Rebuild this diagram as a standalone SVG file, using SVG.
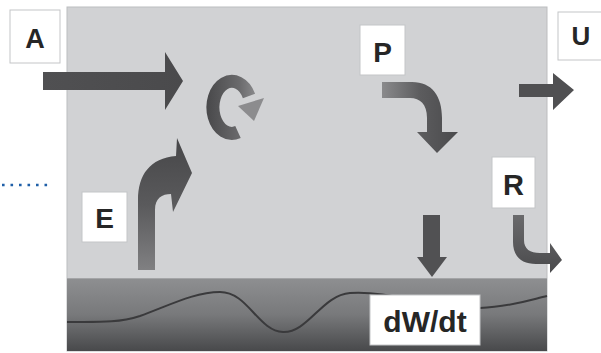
<svg xmlns="http://www.w3.org/2000/svg" width="601" height="353" viewBox="0 0 601 353">
  <style>
    .lbl { fill: #ffffff; stroke: #c4c5c7; stroke-width: 1; }
    .txt { font-family: "Liberation Sans", Arial, sans-serif; font-weight: bold; fill: #262626; text-anchor: middle; }
    .flow { fill: url(#flowDark); }
  </style>
  <defs>
    <linearGradient id="soil" x1="0" y1="0" x2="0" y2="1">
      <stop offset="0" stop-color="#8e8f91"/>
      <stop offset="0.5" stop-color="#78797b"/>
      <stop offset="1" stop-color="#48494b"/>
    </linearGradient>
    <linearGradient id="flowDark" x1="0" y1="0" x2="1" y2="0">
      <stop offset="0" stop-color="#505052"/>
      <stop offset="1" stop-color="#4a4a4c"/>
    </linearGradient>
    <linearGradient id="cycleGrad" gradientUnits="userSpaceOnUse" x1="208" y1="0" x2="265" y2="0">
      <stop offset="0" stop-color="#4a4a4c"/>
      <stop offset="0.55" stop-color="#6a6a6c"/>
      <stop offset="1" stop-color="#9c9c9e"/>
    </linearGradient>
    <linearGradient id="evapGrad" gradientUnits="userSpaceOnUse" x1="0" y1="270" x2="0" y2="140">
      <stop offset="0" stop-color="#808082"/>
      <stop offset="0.5" stop-color="#5a5a5c"/>
      <stop offset="1" stop-color="#474749"/>
    </linearGradient>
    <linearGradient id="precipGrad" gradientUnits="userSpaceOnUse" x1="382" y1="0" x2="458" y2="0">
      <stop offset="0" stop-color="#8a8a8c"/>
      <stop offset="0.5" stop-color="#5c5c5e"/>
      <stop offset="1" stop-color="#4a4a4c"/>
    </linearGradient>
    <linearGradient id="runoffGrad" gradientUnits="userSpaceOnUse" x1="0" y1="215" x2="0" y2="273">
      <stop offset="0" stop-color="#6a6a6c"/>
      <stop offset="1" stop-color="#4a4a4c"/>
    </linearGradient>
  </defs>

  <!-- control volume: atmosphere column above the soil layer -->
  <g id="column">
    <rect x="67" y="7" width="480" height="344" fill="#d1d2d4" stroke="#bcbdbf" stroke-width="1"/>
    <rect x="67" y="278" width="480" height="73" fill="url(#soil)"/>
    <line x1="67" y1="278.5" x2="547" y2="278.5" stroke="#a4a5a7" stroke-width="1"/>
    <path d="M67,322 C100,322 118,323 140,316 C170,305 195,292 220,292 C248,292 258,331 283,332 C308,333 322,295 350,293 C390,290 440,310 480,308 C510,307 530,300 547,296" fill="none" stroke="#3a3a3c" stroke-width="2"/>
  </g>

  <!-- dotted leader on the left -->
  <line x1="2" y1="185" x2="48" y2="185" stroke="#1f5fa8" stroke-width="2.5" stroke-dasharray="2.6 5.9"/>

  <!-- flux arrows -->
  <g id="connectors">
    <polygon id="arrow-A" class="flow" points="43,72 165,72 165,52 183,81 165,110 165,90 43,90"/>
    <g id="arrow-cycle">
      <path d="M238,132 A19,26 0 1 1 249,96" fill="none" stroke="url(#cycleGrad)" stroke-width="13"/>
      <polygon points="264,98 238,106 254,121" fill="#8c8c8e"/>
    </g>
    <path id="arrow-E" fill="url(#evapGrad)" d="M138,270 L138,200 C138,175 150,158 176,156 L177,138 L192,173 L173,212 L171,194 C162,194 155,198 155,210 L155,270 Z"/>
    <path id="arrow-P" fill="url(#precipGrad)" d="M382,82 L412,82 C432,82 442,96 442,118 L442,132 L458,132 L437,153 L417,132 L427,132 L427,118 C427,104 420,98 410,98 L382,98 Z"/>
    <polygon id="arrow-infil" fill="#515153" points="423,215 440,215 440,257 447,257 432,277 417,257 423,257"/>
    <polygon id="arrow-U" fill="#505052" points="519,84 553,84 553,73 574,90 553,110 553,97 519,97"/>
    <path id="arrow-R" fill="url(#runoffGrad)" d="M513,215 L524,215 L524,240 C524,249 530,253 540,253 L550,253 L550,243 L562,260 L550,273 L550,264 L536,264 C521,264 513,256 513,242 Z"/>
  </g>

  <!-- labels -->
  <g id="node-A">
    <rect class="lbl" x="10" y="10" width="50" height="53"/>
    <text class="txt" x="35" y="48" font-size="27">A</text>
  </g>
  <g id="node-P">
    <rect class="lbl" x="360" y="25" width="45" height="50"/>
    <text class="txt" x="382.5" y="62" font-size="28">P</text>
  </g>
  <g id="node-U">
    <rect class="lbl" x="558" y="12" width="48" height="48"/>
    <text class="txt" x="581" y="45" font-size="26">U</text>
  </g>
  <g id="node-E">
    <rect class="lbl" x="82" y="192" width="45" height="50"/>
    <text class="txt" x="104.5" y="228" font-size="28">E</text>
  </g>
  <g id="node-R">
    <rect class="lbl" x="492" y="157" width="43" height="51"/>
    <text class="txt" x="513.5" y="195" font-size="29">R</text>
  </g>
  <g id="node-dWdt">
    <rect class="lbl" x="370" y="295" width="110" height="50"/>
    <text class="txt" x="425" y="332" font-size="30">dW/dt</text>
  </g>
</svg>
